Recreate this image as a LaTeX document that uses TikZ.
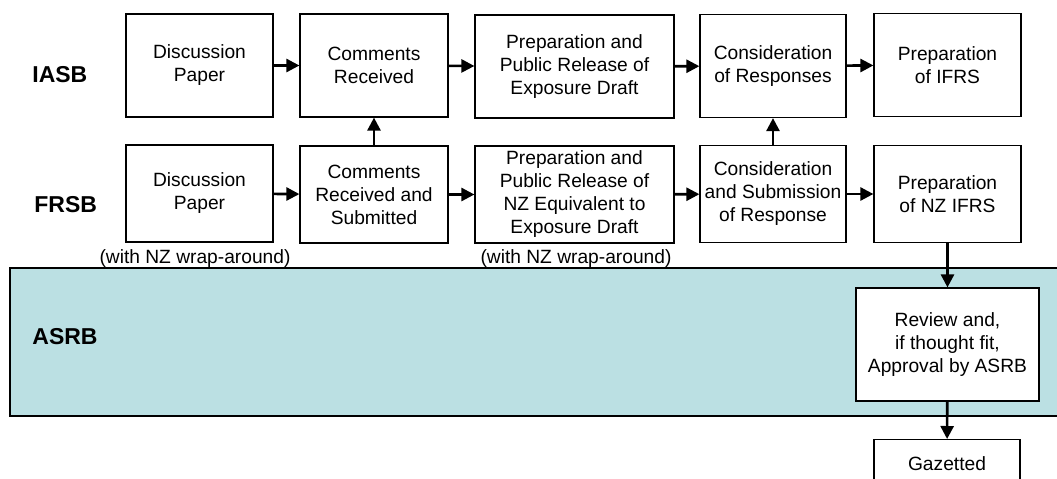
\documentclass[tikz,border=0pt]{standalone}
\usepackage{fontspec}
\setmainfont{Liberation Sans}
\usetikzlibrary{arrows.meta}
\definecolor{asrbblue}{RGB}{187,224,227}

\begin{document}
\begin{tikzpicture}[
        x=0.5pt, y=-0.5pt,
        every node/.style={font=\fontsize{9.6}{11.5}\selectfont},
        stage/.style={draw, line width=0.6pt, fill=white, align=center, inner sep=0pt},
        rowone/.style={stage, minimum height=51.5pt},
        rowtwo/.style={stage, minimum height=48.5pt},
        board/.style={font=\fontsize{11.5}{13}\selectfont\bfseries, anchor=base west, inner sep=0pt},
        note/.style={anchor=base, inner sep=0pt},
        flow/.style={-{Triangle[length=6.5pt,width=6.5pt]}, line width=1.3pt},
      ]
      \useasboundingbox (0,0) rectangle (1057,478);
      \fill[asrbblue] (10,268) rectangle (1064,416);
      \draw[line width=0.6pt] (1064,268) -- (10,268) -- (10,416) -- (1064,416);

      \node[board] (iasb) at (32,82) {IASB};
      \node[board] (frsb) at (34,212) {FRSB};
      \node[board] (asrb) at (32,344) {ASRB};

      \node[rowone, minimum width=73.5pt] (dpI) at (199.5,65.5) {Discussion\\Paper};
      \node[rowone, minimum width=74pt] (crI) at (374,65.5) {Comments\\Received};
      \node[rowone, minimum width=99.5pt] (prI) at (574.5,66.5) {Preparation and\\Public Release of\\Exposure Draft};
      \node[rowone, minimum width=73pt] (coI) at (773,66) {Consideration\\of Responses};
      \node[rowone, minimum width=73.5pt] (piI) at (947.5,65) {Preparation\\of IFRS};

      \node[rowtwo, minimum width=73.5pt] (dpF) at (199.5,193.5) {Discussion\\Paper};
      \node[rowtwo, minimum width=74pt] (crF) at (374,194.5) {Comments\\Received and\\Submitted};
      \node[rowtwo, minimum width=99.5pt] (prF) at (574.5,194.5) {Preparation and\\Public Release of\\NZ Equivalent to\\Exposure Draft};
      \node[rowtwo, minimum width=73pt] (coF) at (773,194) {Consideration\\and Submission\\of Response};
      \node[rowtwo, minimum width=73.5pt] (piF) at (947.5,194) {Preparation\\of NZ IFRS};

      \node[note] (wrapA) at (195,263) {(with NZ wrap-around)};
      \node[note] (wrapB) at (576,263) {(with NZ wrap-around)};

      \node[stage, minimum width=91.5pt, minimum height=56.5pt] (review) at (947.5,344.5) {Review and,\\if thought fit,\\Approval by ASRB};
      \node[stage, minimum width=73pt, minimum height=24pt, anchor=north] (gazette) at (947,439) {Gazetted};

      \draw[flow] (dpI) -- (crI);
      \draw[flow] (crI) -- (prI);
      \draw[flow] (prI) -- (coI);
      \draw[flow] (coI) -- (piI);
      \draw[flow] (dpF) -- (crF);
      \draw[flow] (crF) -- (prF);
      \draw[flow] (prF) -- (coF);
      \draw[flow] (coF) -- (piF);
      \draw[flow] (crF) -- (crI);
      \draw[flow] (coF) -- (coI);
      \draw[flow] (piF) -- (review);
      \draw[flow] (review) -- (gazette);
\end{tikzpicture}
\end{document}
